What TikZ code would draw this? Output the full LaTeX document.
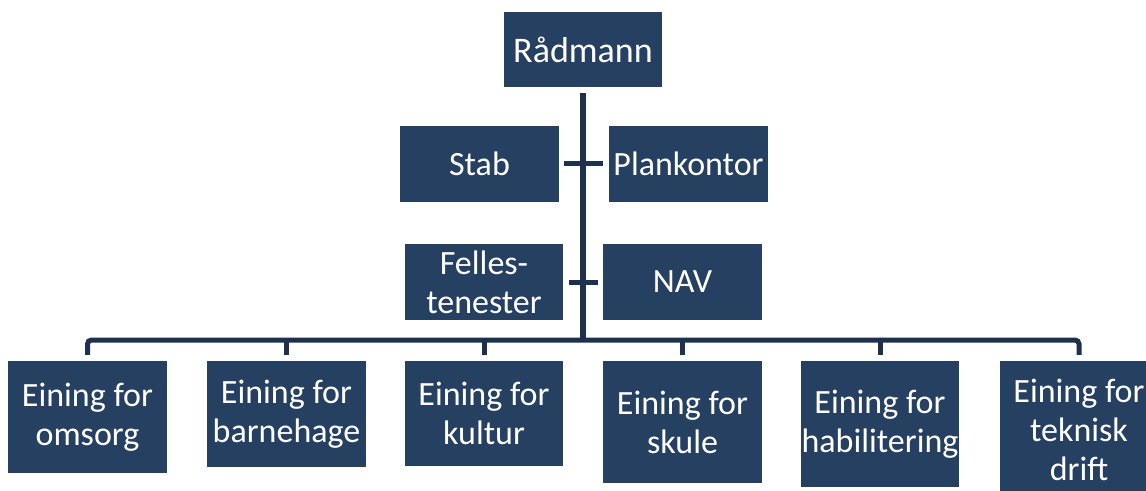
\documentclass[tikz,border=0pt]{standalone}
\usepackage{fontspec}
\setmainfont{Carlito}
\definecolor{boxblue}{RGB}{38,64,97}
\definecolor{linecol}{RGB}{29,49,78}
\begin{document}
\begin{tikzpicture}[x=1pt,y=-1pt,
  unit/.style={fill=boxblue, text=white, minimum width=158pt, inner sep=0pt,
    align=center, font=\fontsize{34}{39}\selectfont},
  conn/.style={draw=linecol, line width=5pt}]
  \useasboundingbox (0,0) rectangle (1146,490);
  % top
  \node[unit, minimum height=75pt, font=\fontsize{36}{40}\selectfont] (radmann) at (583,49.5) {Rådmann};
  \node[unit, minimum height=76pt, minimum width=159pt] (stab) at (479.5,163.5) {Stab};
  \node[unit, minimum height=76pt, minimum width=159pt] (plan) at (688.5,163.5) {Plankontor};
  \node[unit, minimum height=76pt] (felles) at (484,282) {Felles-\\tenester};
  \node[unit, minimum height=76pt, minimum width=159pt] (nav) at (682.5,282) {NAV};
  % units
  \node[unit, minimum height=112pt, minimum width=159pt] (omsorg) at (87.5,417) {Eining for\\omsorg};
  \node[unit, minimum height=106pt, minimum width=159pt] (barnehage) at (286.5,414) {Eining for\\barnehage};
  \node[unit, minimum height=105pt] (kultur) at (484,413.5) {Eining for\\kultur};
  \node[unit, minimum height=122pt, minimum width=159pt] (skule) at (682.5,422) {Eining for\\skule};
  \node[unit, minimum height=126pt] (habil) at (880,424) {Eining for\\habilitering};
  \node[unit, minimum height=138pt] (teknisk) at (1079,430) {Eining for\\teknisk\\drift};
  \coordinate (bus) at (583,340);
  % lines
  \draw[conn, line width=6pt, shorten <=6pt] (radmann) -- (bus);
  \draw[conn, shorten <=5pt, shorten >=6pt] (stab.east) -- (plan.west);
  \draw[conn, shorten <=6pt, shorten >=5pt] (felles.east) -- (nav.west);
  \draw[conn, rounded corners=4pt, shorten <=6pt, shorten >=6pt]
    (omsorg.north) |- (bus) -| (teknisk.north);
  \foreach \n in {barnehage,kultur,skule,habil}
    \draw[conn, shorten >=6pt] (\n.north |- bus) -- (\n.north);
\end{tikzpicture}
\end{document}
